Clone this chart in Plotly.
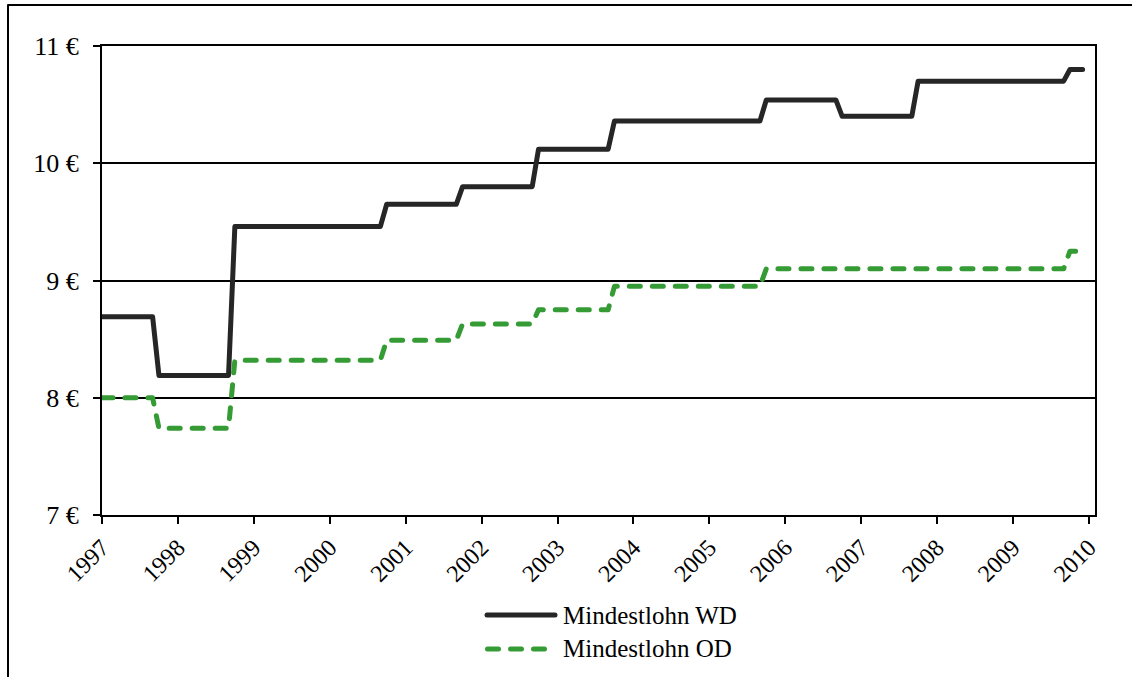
import plotly.graph_objects as go

# Minimum wage levels (EUR per hour) and the month each new level takes effect
wd_levels = [8.69, 8.19, 9.46, 9.65, 9.80, 10.12, 10.36, 10.54, 10.40, 10.70, 10.80]
wd_changes = ["1997-10", "1998-10", "2000-10", "2001-10", "2002-10", "2003-10",
              "2005-10", "2006-10", "2007-10", "2009-10"]

od_levels = [8.00, 7.74, 8.32, 8.49, 8.63, 8.75, 8.95, 9.10, 9.25]
od_changes = ["1997-10", "1998-10", "2000-10", "2001-10", "2002-10", "2003-10",
              "2005-10", "2009-10"]

first_year, last_year = 1997, 2009
year_ticks = list(range(1997, 2011))
euro_ticks = [7, 8, 9, 10, 11]
euro_labels = [f"{v} €" for v in euro_ticks]

series_names = ["Mindestlohn WD", "Mindestlohn OD"]


def to_year(ym):
    y, m = ym.split("-")
    return int(y) + (int(m) - 1) / 12


def monthly(levels, changes):
    """Monthly step series: each month carries the level in force."""
    starts = [to_year(c) for c in changes]
    xs, ys = [], []
    for y in range(first_year, last_year + 1):
        for m in range(12):
            t = y + m / 12
            k = sum(1 for s in starts if t >= s - 1e-9)
            xs.append(t)
            ys.append(levels[k])
    return xs, ys


FONT = "Liberation Serif"
WD_COLOR = "rgb(38,38,38)"
OD_COLOR = "rgb(53,155,53)"
OD_DASH = "11px,12px"

W, H = 1132, 677
ML, MR, MT, MB = 102, 37, 46, 162
PW, PH = W - ML - MR, H - MT - MB


def px_x(p):
    return (p - ML) / PW


def px_y(p):
    return (H - MB - p) / PH


wd_x, wd_y = monthly(wd_levels, wd_changes)
od_x, od_y = monthly(od_levels, od_changes)

fig = go.Figure()
fig.add_trace(go.Scatter(x=wd_x, y=wd_y, mode="lines", name=series_names[0],
                         line=dict(color=WD_COLOR, width=5), showlegend=False))
fig.add_trace(go.Scatter(x=od_x, y=od_y, mode="lines", name=series_names[1],
                         line=dict(color=OD_COLOR, width=5, dash=OD_DASH),
                         showlegend=False))

fig.update_layout(
    width=W, height=H,
    margin=dict(l=ML, r=MR, t=MT, b=MB),
    paper_bgcolor="white", plot_bgcolor="white",
    font=dict(family=FONT, size=24, color="black"),
    showlegend=False,
    xaxis=dict(
        range=[1997, 2010.08], tickmode="array", tickvals=year_ticks,
        ticktext=[str(y) for y in year_ticks], tickangle=-45,
        showgrid=False, zeroline=False,
        showline=True, linecolor="black", linewidth=2, mirror=True,
        ticks="outside", ticklen=7, tickwidth=2, tickcolor="black",
        tickfont=dict(family=FONT, size=24, color="black"),
    ),
    yaxis=dict(
        range=[7, 11], tickmode="array", tickvals=euro_ticks, ticktext=euro_labels,
        showgrid=True, gridcolor="black", gridwidth=1.5, zeroline=False,
        showline=True, linecolor="black", linewidth=2, mirror=True,
        ticks="outside", ticklen=7, tickwidth=2, tickcolor="black",
        ticklabelstandoff=9,
        tickfont=dict(family=FONT, size=26, color="black"),
    ),
)

shapes = [
    # outer frame
    dict(type="rect", xref="paper", yref="paper",
         x0=px_x(8), x1=px_x(W + 20), y0=px_y(5), y1=px_y(H + 20),
         line=dict(color="black", width=2), fillcolor="rgba(0,0,0,0)"),
    # legend samples
    dict(type="line", xref="paper", yref="paper",
         x0=px_x(487), x1=px_x(555), y0=px_y(615), y1=px_y(615),
         line=dict(color=WD_COLOR, width=5)),
    dict(type="line", xref="paper", yref="paper",
         x0=px_x(487.5), x1=px_x(554.5), y0=px_y(649), y1=px_y(649),
         line=dict(color=OD_COLOR, width=5, dash=OD_DASH)),
]

annotations = [
    dict(text=series_names[0], xref="paper", yref="paper", x=px_x(561), y=px_y(615),
         xanchor="left", yanchor="middle", showarrow=False,
         font=dict(family=FONT, size=25, color="black")),
    dict(text=series_names[1], xref="paper", yref="paper", x=px_x(561), y=px_y(649),
         xanchor="left", yanchor="middle", showarrow=False,
         font=dict(family=FONT, size=25, color="black")),
]

fig.update_layout(shapes=shapes, annotations=annotations)

round_caps = """
document.querySelectorAll('.scatterlayer .js-line, .shapelayer path').forEach(function(p){
  p.style.strokeLinecap = 'round';
  p.style.strokeLinejoin = 'round';
});
"""

fig.write_html("out.html", post_script=round_caps)
